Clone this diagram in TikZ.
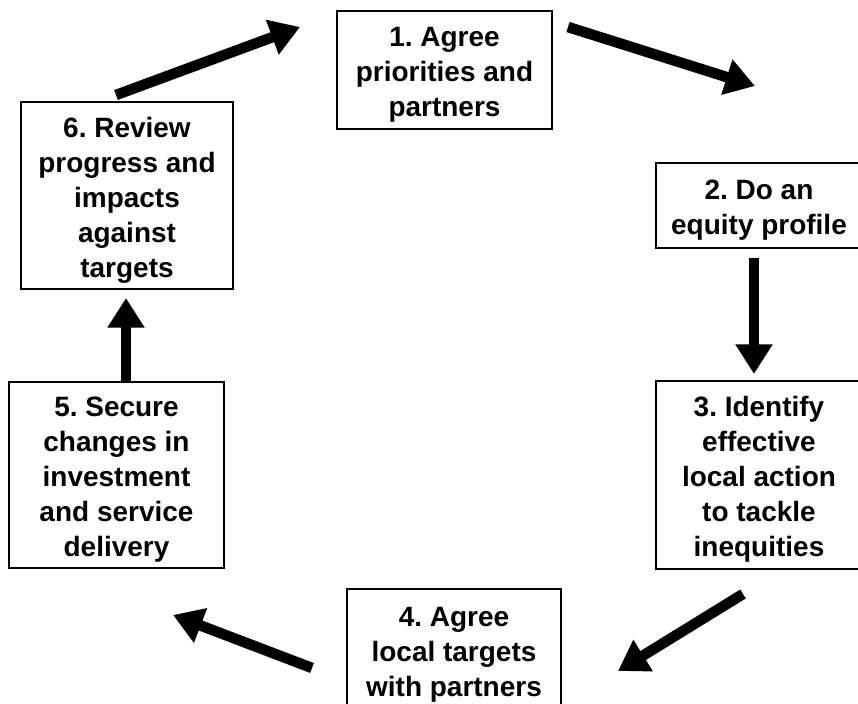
\documentclass[tikz,border=0pt]{standalone}
\usepackage{fontspec}
\setmainfont{Liberation Sans}
\usepackage{tikz}
\usetikzlibrary{arrows.meta}
\frenchspacing
\newcommand{\lift}{\rule{0pt}{21pt}}

\begin{document}
\begin{tikzpicture}[x=0.025cm,y=-0.025cm,>={Triangle[length=21pt,width=25pt]},
	stage/.style 2 args={draw=black, line width=1.8pt, inner sep=0pt, align=center,
		minimum width=#1*0.025cm, minimum height=#2*0.025cm,
		font=\fontsize{19.9pt}{24.9pt}\selectfont\bfseries}]
	\useasboundingbox (0,0) rectangle (858,704);
	\clip (0,0) rectangle (858,704);
	
	%boxes
	\node[stage={215}{118}] (agree)    at (444.5,70)  {\lift 1. Agree\\priorities and\\partners};
	\node[stage={206}{85}]  (profile)  at (759,205.5) {\lift 2. Do an\\equity profile};
	\node[stage={206}{188}] (identify) at (759,475)   {\lift 3. Identify\\effective\\local action\\to tackle\\inequities};
	\node[stage={214}{121}] (targets)  at (454,649.5) {\lift 4. Agree\\local targets\\with partners};
	\node[stage={215}{186}] (secure)   at (116.5,475) {\lift 5. Secure\\changes in\\investment\\and service\\delivery};
	\node[stage={212}{187}] (review)   at (127,195.5) {\lift 6. Review\\progress and\\impacts\\against\\targets};
	
	%arrow ends
	\coordinate (s1) at (568,27);	\coordinate (e1) at (755,86);	%1 to 2
	\coordinate (s2) at (754,258);	\coordinate (e2) at (754,374);	%2 to 3
	\coordinate (s3) at (743,594);	\coordinate (e3) at (618,671);	%3 to 4
	\coordinate (s4) at (312,668);	\coordinate (e4) at (173,615);	%4 to 5
	\coordinate (s5) at (126,381);	\coordinate (e5) at (126,298);	%5 to 6
	\coordinate (s6) at (116,95);	\coordinate (e6) at (300,27);	%6 to 1
	
	%arrows
	\foreach \i in {1,...,6}
		\draw[->,line width=7.5pt] (s\i)--(e\i);
\end{tikzpicture}
\end{document}
